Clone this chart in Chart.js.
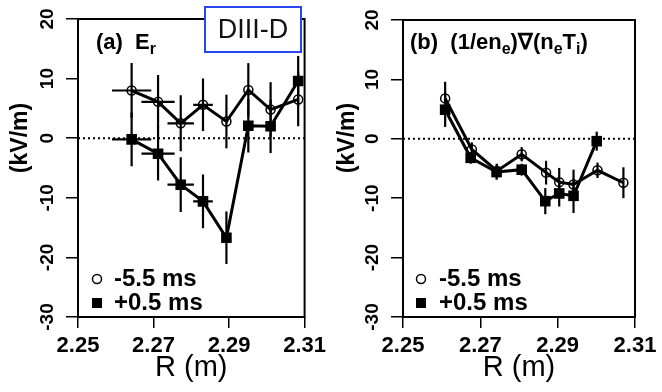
<!DOCTYPE html>
<html>
<head>
<meta charset="utf-8">
<script src="https://cdn.jsdelivr.net/npm/chart.js@4"></script>
<style>
  html, body { margin: 0; padding: 0; background: #fff; }
  #wrap { position: relative; width: 662px; height: 392px; }
  canvas { position: absolute; top: 0; }
</style>
</head>
<body>
<div id="wrap">
  <canvas id="panelA" width="331" height="392" style="left:0"></canvas>
  <canvas id="panelB" width="331" height="392" style="left:331px"></canvas>
</div>
<script>
// values: R in m, fields in kV/m
const seriesLabels = ['-5.5 ms', '+0.5 ms'];
const xTicks = [2.25, 2.27, 2.29, 2.31];
const yTicks = [-30, -20, -10, 0, 10, 20];

// panel (a) Er
const rA = [2.2642, 2.2712, 2.2772, 2.2831, 2.2893, 2.2951, 2.3010, 2.3083];
const rAErr = [0.0052, 0.0044, 0.0035, 0.0026, 0, 0, 0, 0];
const erEarly = [8.0, 6.1, 2.5, 5.6, 2.8, 8.1, 4.8, 6.5];
const erEarlyErr = [4.6, 4.5, 4.7, 4.4, 4.5, 4.5, 4.6, 4.5];
const erLate = [-0.2, -2.6, -7.8, -10.6, -16.7, 2.1, 2.0, 9.6];
const erLateErr = [4.5, 4.5, 4.6, 4.5, 4.4, 4.5, 4.5, 4.2];

// panel (b) (1/en_e) grad(n_e T_i)
const rBEarly = [2.2609, 2.2678, 2.2743, 2.2807, 2.2870, 2.2904, 2.2941, 2.3003, 2.3070];
const diaEarly = [6.8, -1.8, -5.4, -2.6, -5.7, -7.3, -7.7, -5.3, -7.4];
const diaEarlyErr = [2.8, 1.2, 1.2, 1.2, 2.0, 2.4, 2.5, 1.3, 2.6];
const rBLate = [2.2609, 2.2675, 2.2742, 2.2807, 2.2868, 2.2904, 2.2941, 2.3001];
const diaLate = [4.9, -3.2, -5.6, -5.2, -10.5, -9.2, -9.6, -0.4];
const diaLateErr = [2.9, 1.0, 1.3, 1.0, 2.2, 2.2, 2.9, 1.6];

const FONT = 'Liberation Sans, Arial, sans-serif';

function pts(xs, ys) {
  return xs.map((x, i) => ({ x: x, y: ys[i] }));
}

function openCircles(label, data, errY, errX) {
  return { label: label, data: data, errY: errY, errX: errX,
    borderColor: '#000', borderWidth: 3, pointStyle: 'circle', pointRadius: 4.5,
    pointBorderWidth: 1.5, pointBorderColor: '#000', pointBackgroundColor: 'rgba(0,0,0,0)' };
}
function filledSquares(label, data, errY, errX) {
  return { label: label, data: data, errY: errY, errX: errX,
    borderColor: '#000', borderWidth: 3, pointStyle: 'rect', pointRadius: 7.5,
    pointBorderWidth: 0, pointBackgroundColor: '#000' };
}

// error bars drawn from the datasets through the scales
const errorBars = {
  id: 'errorBars',
  afterDatasetsDraw(chart) {
    const ctx = chart.ctx, xs = chart.scales.x, ys = chart.scales.y;
    ctx.save();
    ctx.strokeStyle = '#000';
    ctx.lineWidth = 2.2;
    chart.data.datasets.forEach(ds => {
      ds.data.forEach((p, i) => {
        const ey = ds.errY ? ds.errY[i] : 0;
        const ex = ds.errX ? ds.errX[i] : 0;
        const px = xs.getPixelForValue(p.x), py = ys.getPixelForValue(p.y);
        ctx.beginPath();
        if (ey) {
          ctx.moveTo(px, ys.getPixelForValue(p.y + ey));
          ctx.lineTo(px, ys.getPixelForValue(p.y - ey));
        }
        if (ex) {
          ctx.moveTo(xs.getPixelForValue(p.x - ex), py);
          ctx.lineTo(xs.getPixelForValue(p.x + ex), py);
        }
        ctx.stroke();
      });
    });
    ctx.restore();
  }
};

// frame, dotted zero line, panel title, legend, y title
const decor = {
  id: 'decor',
  beforeDatasetsDraw(chart) {
    const ctx = chart.ctx, a = chart.chartArea, ys = chart.scales.y;
    ctx.save();
    ctx.strokeStyle = '#000';
    ctx.lineWidth = 2;
    ctx.setLineDash([2, 3]);
    const y0 = ys.getPixelForValue(0);
    ctx.beginPath();
    ctx.moveTo(a.left, y0);
    ctx.lineTo(a.right, y0);
    ctx.stroke();
    ctx.setLineDash([]);
    ctx.strokeRect(a.left, a.top, a.right - a.left, a.bottom - a.top);
    ctx.restore();
  },
  afterDraw(chart, args, o) {
    const ctx = chart.ctx;
    ctx.save();
    ctx.fillStyle = '#000';
    ctx.textBaseline = 'middle';

    // y axis title
    ctx.save();
    ctx.translate(o.yTitleX, o.yTitleY);
    ctx.rotate(-Math.PI / 2);
    ctx.textAlign = 'center';
    ctx.font = 'bold 23px ' + FONT;
    ctx.fillText('(kV/m)', 0, 0);
    ctx.restore();

    // panel title with subscripts
    let x = o.titleX;
    ctx.textAlign = 'left';
    o.title.forEach(part => {
      ctx.font = 'bold ' + (part.sub ? 16 : 22) + 'px ' + FONT;
      ctx.fillText(part.t, x, o.titleY + (part.sub ? 7 : 0));
      x += ctx.measureText(part.t).width;
    });

    // legend
    chart.data.datasets.forEach((ds, i) => {
      const ly = o.legendY + i * 24;
      if (ds.pointStyle === 'rect') {
        ctx.fillRect(o.legendX - 5, ly - 5, 10, 10);
      } else {
        ctx.lineWidth = 1.5;
        ctx.beginPath();
        ctx.arc(o.legendX, ly, 4.5, 0, Math.PI * 2);
        ctx.stroke();
      }
      ctx.font = 'bold 24px ' + FONT;
      ctx.fillText(ds.label, o.legendTextX, ly);
    });

    // machine tag
    if (o.tag) {
      const t = o.tag;
      ctx.fillStyle = '#fff';
      ctx.fillRect(t.x, t.y, t.w, t.h);
      ctx.strokeStyle = '#2a45f0';
      ctx.lineWidth = 2;
      ctx.strokeRect(t.x, t.y, t.w, t.h);
      ctx.fillStyle = '#111';
      ctx.textAlign = 'center';
      ctx.font = '27px ' + FONT;
      ctx.fillText(t.text, t.x + t.w / 2, t.y + t.h / 2 + 1);
    }
    ctx.restore();
  }
};

function makePanel(id, datasets, deco, geom) {
  const tickGrid = { drawOnChartArea: false, drawTicks: true, color: '#000', lineWidth: 1.5 };
  return new Chart(document.getElementById(id), {
    type: 'line',
    data: { datasets: datasets },
    options: {
      responsive: false,
      animation: false,
      layout: { padding: geom.padding },
      plugins: { legend: { display: false }, tooltip: { enabled: false }, decor: deco },
      scales: {
        x: {
          type: 'linear', min: 2.25, max: 2.31,
          afterBuildTicks: ax => { ax.ticks = xTicks.map(v => ({ value: v })); },
          afterFit: ax => { ax.height = geom.xHeight; },
          grid: Object.assign({ tickLength: 11 }, tickGrid),
          border: { display: false },
          ticks: { color: '#000', padding: 5, maxRotation: 0, autoSkip: false,
            font: { family: FONT, size: 22, weight: 'bold' }, callback: v => v.toFixed(2) },
          title: { display: true, text: 'R (m)', color: '#000',
            font: { family: FONT, size: 29 }, padding: { top: 0, bottom: 7 } }
        },
        y: {
          min: -30, max: 20,
          afterBuildTicks: ax => { ax.ticks = yTicks.map(v => ({ value: v })); },
          afterFit: ax => { ax.width = geom.yWidth; },
          grid: Object.assign({ tickLength: 12 }, tickGrid),
          border: { display: false },
          ticks: { color: '#000', padding: 5, minRotation: 90, maxRotation: 90, crossAlign: 'center',
            font: { family: FONT, size: 19, weight: 'bold' }, callback: v => String(v) }
        }
      }
    },
    plugins: [errorBars, decor]
  });
}

makePanel('panelA', [
  openCircles(seriesLabels[0], pts(rA, erEarly), erEarlyErr, rAErr),
  filledSquares(seriesLabels[1], pts(rA, erLate), erLateErr, rAErr)
], {
  yTitleX: 21, yTitleY: 138,
  titleX: 96, titleY: 43,
  title: [{ t: '(a)  E' }, { t: 'r', sub: true }],
  legendX: 97, legendY: 279, legendTextX: 114,
  tag: { x: 205, y: 7, w: 96, h: 45, text: 'DIII-D' }
}, { padding: { left: 0, top: 19, right: 21, bottom: 0 }, yWidth: 78, xHeight: 75 });

makePanel('panelB', [
  openCircles(seriesLabels[0], pts(rBEarly, diaEarly), diaEarlyErr, null),
  filledSquares(seriesLabels[1], pts(rBLate, diaLate), diaLateErr, null)
], {
  yTitleX: 17, yTitleY: 138,
  titleX: 79, titleY: 43,
  title: [{ t: '(b)  (1/en' }, { t: 'e', sub: true }, { t: ')\u2207(n' }, { t: 'e', sub: true },
          { t: 'T' }, { t: 'i', sub: true }, { t: ')' }],
  legendX: 90, legendY: 279, legendTextX: 108
}, { padding: { left: 0, top: 20, right: 27, bottom: 0 }, yWidth: 72, xHeight: 75 });
</script>
</body>
</html>
